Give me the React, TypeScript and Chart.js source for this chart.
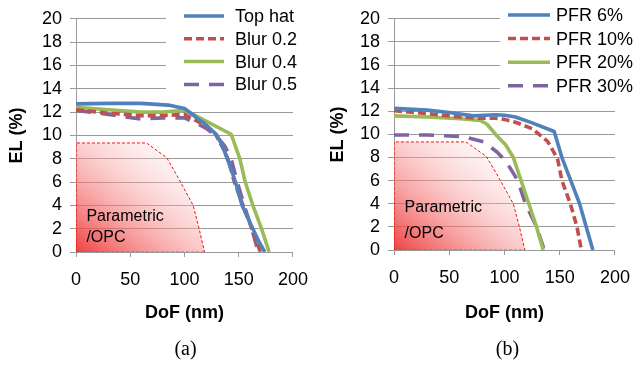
import React, { useEffect, useRef } from 'react';
import { Chart, registerables } from 'chart.js';

Chart.register(...registerables);

const SANS = '"Liberation Sans", Arial, Helvetica, sans-serif';
const SERIF = '"Liberation Serif", "Times New Roman", serif';

const BLUE = '#4F81BD';
const RED = '#C0504D';
const GREEN = '#9BBB59';
const PURPLE = '#8064A2';
const GRID = '#9a9a9a';

// axis ranges
const xMin = 0;
const xMax = 200;
const xStep = 50;
const yMin = 0;
const yMax = 20;
const yStep = 2;

// ---- chart (a) ----
const aLabels = ['Top hat', 'Blur 0.2', 'Blur 0.4', 'Blur 0.5'];
const topHatX = [0, 30, 60, 85, 100, 106, 112, 118, 124, 130, 135, 139, 143, 147, 153, 158, 163, 168, 174];
const topHatY = [12.7, 12.75, 12.75, 12.6, 12.3, 11.9, 11.45, 11.05, 10.55, 10, 9.1, 8.1, 7.1, 6, 4, 3, 2, 1, 0];
const blur02X = [0, 30, 60, 80, 100, 110, 120, 128, 135, 140, 146, 154, 162, 170];
const blur02Y = [12.2, 11.9, 11.7, 11.7, 11.8, 11.3, 10.8, 10.2, 9, 8, 6, 4, 2, 0];
const blur04X = [0, 30, 60, 80, 100, 108, 143, 151, 156, 163, 171, 178];
const blur04Y = [12.4, 12.2, 12.0, 12.0, 12.15, 11.8, 10.1, 8, 6, 4, 2, 0];
const blur05X = [0, 30, 60, 80, 100, 110, 120, 130, 137, 143, 148, 155, 162, 168];
const blur05Y = [12.15, 11.8, 11.4, 11.5, 11.5, 11.1, 10.6, 9.9, 9.1, 8, 6.2, 4, 2, 0];

// ---- chart (b) ----
const bLabels = ['PFR 6%', 'PFR 10%', 'PFR 20%', 'PFR 30%'];
const pfr6X = [0, 30, 50, 72, 92, 100, 110, 125, 145, 152, 160, 168, 174, 180];
const pfr6Y = [12.25, 12.1, 11.9, 11.6, 11.7, 11.65, 11.5, 11.0, 10.25, 8, 6, 4, 2, 0];
const pfr10X = [0, 30, 60, 75, 92, 100, 110, 125, 139, 148, 152, 159.6, 165.6, 169.6];
const pfr10Y = [12.05, 11.8, 11.5, 11.4, 11.4, 11.3, 11.05, 10.5, 9.4, 7.9, 6, 4, 2, 0];
const pfr20X = [0, 30, 60, 78, 84, 92, 101, 108, 115, 122, 129, 135];
const pfr20Y = [11.6, 11.5, 11.35, 11.2, 10.9, 10.0, 9.1, 8, 6, 4, 2, 0];
const pfr30X = [0, 30, 63, 81, 93, 101, 107, 112, 119, 129, 136];
const pfr30Y = [9.95, 9.95, 9.8, 9.35, 8.5, 7.7, 6.8, 6, 4, 2, 0];

// shaded "Parametric /OPC" region (same in both panels)
const regionX = [0, 0, 65, 83.5, 94, 101, 108, 113.5, 118.5];
const regionY = [0, 9.35, 9.35, 8.1, 6.4, 5.2, 4, 2, 0];
const regionBaseX = [0, 118.5];
const regionBaseY = [0, 0];
const regionText = ['Parametric', '/OPC'];

const xTitle = 'DoF (nm)';
const yTitle = 'EL (%)';

type Series = { label: string; xs: number[]; ys: number[]; color: string; dash: number[] };

type Spec = {
  canvasLeft: number;
  width: number;
  height: number;
  area: { l: number; r: number; t: number; b: number };
  series: Series[];
  notePos: { x: number; y: number }[];
  legend: { boxX: number; boxH: number; lineX0: number; lineX1: number; textX: number; y0: number; dy: number };
  caption: string;
  captionDx: number;
  yTitlePad: number;
};

const pts = (xs: number[], ys: number[]) => xs.map((x, i) => ({ x, y: ys[i] }));

const specA: Spec = {
  canvasLeft: 0,
  width: 320,
  height: 367,
  area: { l: 76, r: 305, t: 16, b: 252 },
  series: [
    { label: aLabels[0], xs: topHatX, ys: topHatY, color: BLUE, dash: [] },
    { label: aLabels[1], xs: blur02X, ys: blur02Y, color: RED, dash: [8, 4] },
    { label: aLabels[2], xs: blur04X, ys: blur04Y, color: GREEN, dash: [] },
    { label: aLabels[3], xs: blur05X, ys: blur05Y, color: PURPLE, dash: [15, 10] },
  ],
  notePos: [
    { x: 9.6, y: 3.0 },
    { x: 9.6, y: 1.25 },
  ],
  legend: { boxX: 166, boxH: 98, lineX0: 184, lineX1: 224, textX: 235, y0: 16, dy: 22.8 },
  caption: '(a)',
  captionDx: 1,
  yTitlePad: 6,
};

const specB: Spec = {
  canvasLeft: 320,
  width: 322,
  height: 367,
  area: { l: 74, r: 303, t: 15, b: 250 },
  series: [
    { label: bLabels[0], xs: pfr6X, ys: pfr6Y, color: BLUE, dash: [] },
    { label: bLabels[1], xs: pfr10X, ys: pfr10Y, color: RED, dash: [8, 4] },
    { label: bLabels[2], xs: pfr20X, ys: pfr20Y, color: GREEN, dash: [] },
    { label: bLabels[3], xs: pfr30X, ys: pfr30Y, color: PURPLE, dash: [15, 10] },
  ],
  notePos: [
    { x: 9.6, y: 3.7 },
    { x: 9.6, y: 1.45 },
  ],
  legend: { boxX: 180, boxH: 97, lineX0: 188, lineX1: 230, textX: 236, y0: 15, dy: 23.6 },
  caption: '(b)',
  captionDx: 3,
  yTitlePad: 7,
};

function Panel({ spec }: { spec: Spec }) {
  const ref = useRef<HTMLCanvasElement | null>(null);

  useEffect(() => {
    const canvas = ref.current;
    if (!canvas) return;
    const { area, width, height } = spec;

    const overlay = {
      id: 'overlay' + spec.caption,
      afterDraw(chart: any) {
        const { ctx, chartArea, scales } = chart;
        const xs = scales.x;
        const ys = scales.y;
        ctx.save();
        // region note text
        ctx.fillStyle = '#000';
        ctx.font = '16px ' + SANS;
        ctx.textAlign = 'left';
        ctx.textBaseline = 'middle';
        spec.notePos.forEach((p, i) => {
          ctx.fillText(regionText[i], xs.getPixelForValue(p.x), ys.getPixelForValue(p.y));
        });
        // legend
        const lg = spec.legend;
        ctx.fillStyle = '#fff';
        ctx.fillRect(lg.boxX, 0, width - lg.boxX, lg.boxH);
        spec.series.forEach((s, i) => {
          const y = lg.y0 + i * lg.dy;
          ctx.beginPath();
          ctx.setLineDash(s.dash);
          ctx.lineWidth = 3.5;
          ctx.lineCap = 'butt';
          ctx.strokeStyle = s.color;
          ctx.moveTo(lg.lineX0, y);
          ctx.lineTo(lg.lineX1, y);
          ctx.stroke();
          ctx.setLineDash([]);
          ctx.fillStyle = '#000';
          ctx.font = '18px ' + SANS;
          ctx.textAlign = 'left';
          ctx.textBaseline = 'middle';
          ctx.fillText(s.label, lg.textX, y + 1);
        });
        // caption
        ctx.font = '20px ' + SERIF;
        ctx.textAlign = 'center';
        ctx.textBaseline = 'middle';
        ctx.fillStyle = '#000';
        ctx.fillText(spec.caption, (chartArea.left + chartArea.right) / 2 + spec.captionDx, 350);
        ctx.restore();
      },
    };

    const regionFill = (c: any) => {
      const chart = c.chart;
      const { chartArea, scales } = chart;
      if (!chartArea) return 'rgba(240,80,80,0.5)';
      const x0 = scales.x.getPixelForValue(0);
      const y0 = scales.y.getPixelForValue(0);
      const x1 = scales.x.getPixelForValue(95);
      const y1 = scales.y.getPixelForValue(11);
      const g = chart.ctx.createLinearGradient(x0, y0, x1, y1);
      g.addColorStop(0, 'rgba(236,40,40,0.88)');
      g.addColorStop(0.55, 'rgba(248,160,160,0.45)');
      g.addColorStop(1, 'rgba(255,255,255,0.15)');
      return g;
    };

    const datasets: any[] = spec.series.map((s, i) => ({
      label: s.label,
      data: pts(s.xs, s.ys),
      borderColor: s.color,
      backgroundColor: s.color,
      borderWidth: 3.6,
      borderDash: s.dash,
      borderJoinStyle: 'round',
      borderCapStyle: 'butt',
      pointRadius: 0,
      tension: 0,
      fill: false,
      order: i,
    }));
    datasets.push({
      label: 'region',
      data: pts(regionX, regionY),
      borderColor: 'rgba(255,0,0,0.95)',
      backgroundColor: regionFill,
      borderWidth: 1,
      borderDash: [3, 2],
      pointRadius: 0,
      tension: 0,
      fill: 'origin',
      order: 10,
    });
    datasets.push({
      label: 'regionBase',
      data: pts(regionBaseX, regionBaseY),
      borderColor: 'rgba(255,0,0,0.95)',
      borderWidth: 1,
      borderDash: [3, 2],
      pointRadius: 0,
      fill: false,
      order: 11,
    });

    const chart = new Chart(canvas, {
      type: 'line',
      data: { datasets },
      options: {
        animation: false,
        responsive: false,
        devicePixelRatio: 1,
        layout: { padding: { left: 0, top: area.t, right: width - area.r, bottom: 0 } },
        plugins: { legend: { display: false }, tooltip: { enabled: false } },
        scales: {
          x: {
            type: 'linear',
            min: xMin,
            max: xMax,
            afterFit: (s: any) => {
              s.height = height - area.b;
            },
            ticks: {
              stepSize: xStep,
              autoSkip: false,
              color: '#000',
              font: { family: SANS, size: 18 },
              padding: 12,
              maxRotation: 0,
            },
            grid: { display: true, drawOnChartArea: false, drawTicks: true, tickLength: 5, color: GRID },
            border: { display: true, color: GRID, width: 1 },
            title: {
              display: true,
              text: xTitle,
              color: '#000',
              font: { family: SANS, size: 18, weight: 'bold' },
              padding: { top: 0, bottom: 43 },
            },
          },
          y: {
            type: 'linear',
            min: yMin,
            max: yMax,
            afterFit: (s: any) => {
              s.width = area.l;
            },
            ticks: {
              stepSize: yStep,
              autoSkip: false,
              color: '#000',
              font: { family: SANS, size: 18 },
              padding: 8,
            },
            grid: { display: true, drawTicks: true, tickLength: 6, color: GRID },
            border: { display: true, color: GRID, width: 1 },
            title: {
              display: true,
              text: yTitle,
              color: '#000',
              font: { family: SANS, size: 18, weight: 'bold' },
              padding: { top: spec.yTitlePad, bottom: 0 },
            },
          },
        },
      } as any,
      plugins: [overlay],
    });

    return () => chart.destroy();
  }, [spec]);

  return (
    <canvas
      ref={ref}
      width={spec.width}
      height={spec.height}
      style={{ position: 'absolute', left: spec.canvasLeft, top: 0, width: spec.width, height: spec.height }}
    />
  );
}

export default function App() {
  return (
    <div style={{ position: 'absolute', left: 0, top: 0, width: 642, height: 367, background: '#fff', overflow: 'hidden' }}>
      <Panel spec={specA} />
      <Panel spec={specB} />
    </div>
  );
}
